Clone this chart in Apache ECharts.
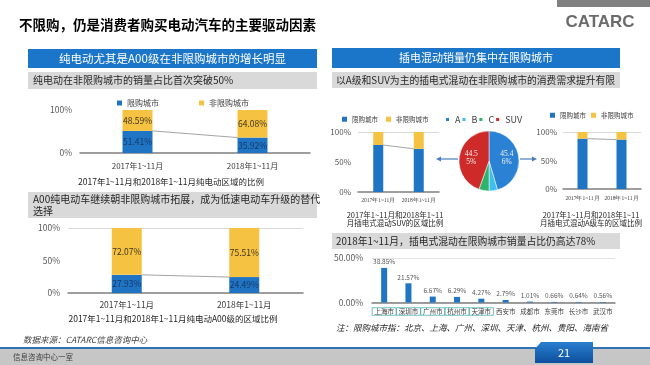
<!DOCTYPE html>
<html><head><meta charset="utf-8">
<script src="https://cdn.jsdelivr.net/npm/echarts@6/dist/echarts.min.js"></script>
<style>html,body{margin:0;padding:0;background:#fff}#c{width:650px;height:365px}</style>
</head><body><div id="c"></div>
<script>
// ---------- data ----------
const periods = ['2017年1~11月', '2018年1~11月'];
const bevLimited = [51.41, 35.92];
const bevUnlimited = [48.59, 64.08];
const a00Limited = [27.93, 24.49];
const a00Unlimited = [72.07, 75.51];
const suvLimited = [78.3, 72.0];
const suvUnlimited = [21.7, 28.0];
const aLimited = [88.3, 86.7];
const aUnlimited = [11.7, 13.3];
const pieNames = ['A', 'B', 'C', 'SUV'];
const pieValues = [45.46, 4.49, 5.50, 44.55];
const cities = ['上海市', '深圳市', '广州市', '杭州市', '天津市', '西安市', '成都市', '东莞市', '长沙市', '武汉市'];
const cityShares = [38.85, 21.57, 6.67, 6.29, 4.27, 2.79, 1.01, 0.66, 0.64, 0.56];
const boxedCities = ['上海市', '深圳市', '广州市', '杭州市', '天津市'];
const seriesNames = ['限购城市', '非限购城市'];

// ---------- style ----------
const FONT = "'Noto Sans CJK SC','Noto Sans',sans-serif";
const SERIF = "'Liberation Serif','DejaVu Serif',serif";
const BLUE = '#1f74c4', YELLOW = '#f5c242', AXIS = '#7f7f7f';
const PIE_COLORS = ['#2b82d4', '#3fbff0', '#2db36a', '#cf2a2a'];

const chart = echarts.init(document.getElementById('c'), null, {renderer: 'canvas'});

function T(text, x, y, size, o) {
  o = o || {};
  return {type: 'text', z: 10, silent: true, style: {
    text: text, x: x, y: y, fill: o.fill || '#262626',
    fontSize: size, fontFamily: o.family || FONT, fontWeight: o.weight || 'normal',
    fontStyle: o.style || 'normal', lineHeight: o.lh,
    align: o.align || 'left', verticalAlign: 'middle',
    textAlign: o.align || 'left', textVerticalAlign: 'middle'
  }};
}
function R(x, y, w, h, fill) {
  return {type: 'rect', z: 1, silent: true, shape: {x: x, y: y, width: w, height: h}, style: {fill: fill}};
}
function arrow(x1, x2, y) {
  const dir = x2 > x1 ? 1 : -1;
  return [
    {type: 'line', z: 10, silent: true, shape: {x1: x1, y1: y, x2: x2 - dir * 4, y2: y}, style: {stroke: '#4a7ebb', lineWidth: 1.2}},
    {type: 'polygon', z: 10, silent: true, shape: {points: [[x2, y], [x2 - dir * 5, y - 2.6], [x2 - dir * 5, y + 2.6]]}, style: {fill: '#4a7ebb'}}
  ];
}

const grids = [
  {left: 80, top: 110, width: 230, height: 43},
  {left: 68, top: 228, width: 235, height: 65},
  {left: 358, top: 132, width: 81, height: 60},
  {left: 563, top: 132, width: 78, height: 57},
  {left: 372, top: 258, width: 243, height: 44.5}
].map(g => Object.assign(g, {outerBoundsMode: 'none', containLabel: false}));

function xCat(gi, data, size, margin, family, extra) {
  return Object.assign({
    type: 'category', gridIndex: gi, data: data,
    axisLine: {lineStyle: {color: AXIS, width: 1.5}}, axisTick: {show: false},
    axisLabel: {interval: 0, fontSize: size, margin: margin, color: '#404040', fontFamily: family || FONT}
  }, extra || {});
}
function yPct(gi, max, interval, size, margin, splitColors, fmt) {
  return {
    type: 'value', gridIndex: gi, min: 0, max: max, interval: interval,
    axisLine: {show: false}, axisTick: {show: false},
    axisLabel: {fontSize: size, margin: margin, color: '#595959', fontFamily: FONT,
      formatter: fmt || (v => v + '%')},
    splitLine: splitColors ? {show: true, lineStyle: {color: splitColors, width: 1}} : {show: false}
  };
}

function stacked(gi, lim, unl, bw, lblSize) {
  const lbl = (c) => lblSize ? {show: true, position: 'inside', fontSize: lblSize, color: c,
    fontFamily: FONT, formatter: p => p.value.toFixed(2) + '%'} : {show: false};
  return [
    {name: seriesNames[0], type: 'bar', xAxisIndex: gi, yAxisIndex: gi, stack: 's' + gi, barWidth: bw,
      data: lim, itemStyle: {color: BLUE}, label: lbl('#163a66')},
    {name: seriesNames[1], type: 'bar', xAxisIndex: gi, yAxisIndex: gi, stack: 's' + gi, barWidth: bw,
      data: unl, itemStyle: {color: YELLOW}, label: lbl('#3d3320')}
  ];
}
function connector(gi, lim, bw) {
  return {
    type: 'custom', xAxisIndex: gi, yAxisIndex: gi, silent: true, z: 5,
    data: [[0, lim[0], lim[1]]], encode: {x: 0, y: 1},
    renderItem: function (params, api) {
      const p0 = api.coord([0, api.value(1)]);
      const p1 = api.coord([1, api.value(2)]);
      return {type: 'line', shape: {x1: p0[0] + bw / 2, y1: p0[1], x2: p1[0] - bw / 2, y2: p1[1]},
        style: {stroke: '#8c8c8c', lineWidth: 0.8}};
    }
  };
}
function legendFor(left, top, size, gap, data, iw) {
  return {left: left, top: top, itemWidth: iw || 5, itemHeight: iw || 5, itemGap: gap, icon: 'rect',
    padding: 0, data: data, textStyle: {fontSize: size, color: '#404040', fontFamily: FONT}};
}

const option = {
  animation: false,
  backgroundColor: '#fff',
  textStyle: {fontFamily: FONT},
  grid: grids,
  legend: [
    legendFor(117, 99, 8, 40, seriesNames),
    legendFor(342, 116, 6.5, 8, seriesNames),
    legendFor(550, 112, 6.5, 5, seriesNames),
    legendFor(444, 115, 9, 0, pieNames, 5)
  ],
  xAxis: [
    xCat(0, periods, 8, 9),
    xCat(1, periods, 8.5, 7.5),
    xCat(2, periods, 5.5, 6, SERIF),
    xCat(3, periods, 5.5, 7, SERIF),
    xCat(4, cities, 6.5, 5, FONT, {axisLabel: {
      interval: 0, margin: 5, color: '#404040',
      formatter: v => (boxedCities.indexOf(v) >= 0 ? '{b|' : '{p|') + v + '}',
      rich: {
        b: {fontSize: 6.5, fontFamily: FONT, color: '#404040', borderColor: '#4aaeae', borderWidth: 0.8,
          width: 23, align: 'center', padding: [1, 0.5, 0, 0.5], lineHeight: 8},
        p: {fontSize: 6.5, fontFamily: FONT, color: '#404040', width: 23, align: 'center',
          padding: [1, 0.5, 0, 0.5], lineHeight: 8}
      }
    }})
  ],
  yAxis: [
    yPct(0, 100, 100, 8.5, 8, null),
    yPct(1, 100, 50, 8.5, 8, ['transparent', 'transparent', '#d9d9d9']),
    yPct(2, 100, 50, 8, 7, ['transparent', 'transparent', '#d9d9d9']),
    yPct(3, 100, 50, 8, 6, ['transparent', 'transparent', '#d9d9d9']),
    yPct(4, 50, 50, 8.5, 9, ['#e3e3e3'], v => v.toFixed(2) + '%')
  ],
  series: [
    ...stacked(0, bevLimited, bevUnlimited, 30, 8.5), connector(0, bevLimited, 30),
    ...stacked(1, a00Limited, a00Unlimited, 30, 8.5), connector(1, a00Limited, 30),
    ...stacked(2, suvLimited, suvUnlimited, 10, 0), connector(2, suvLimited, 10),
    ...stacked(3, aLimited, aUnlimited, 10, 0), connector(3, aLimited, 10),
    {type: 'bar', xAxisIndex: 4, yAxisIndex: 4, barWidth: 6, data: cityShares,
      itemStyle: {color: BLUE},
      label: {show: true, position: 'top', distance: 3, fontSize: 6.5, color: '#595959', fontFamily: FONT,
        formatter: p => p.value.toFixed(2) + '%'}},
    {type: 'pie', center: [489, 161], radius: 30, startAngle: 90, clockwise: true,
      itemStyle: {borderColor: '#fff', borderWidth: 0.5},
      label: {show: true, position: 'inside', fontSize: 7.5, lineHeight: 8, color: '#f2f2f2', fontFamily: SERIF,
        formatter: p => {
          if (p.percent < 10) return '';
          const s = p.value.toFixed(2) + '%';
          return s.slice(0, 4) + '\n' + s.slice(4);
        }},
      labelLine: {show: false},
      data: pieNames.map((n, i) => ({name: n, value: pieValues[i], itemStyle: {color: PIE_COLORS[i]}}))
    }
  ],
  graphic: [
    // header
    R(557, 0, 93, 7, '#808080'),
    T('不限购，仍是消费者购买电动汽车的主要驱动因素', 19, 25, 13.5, {weight: 'bold', fill: '#000'}),
    T('CATARC', 600, 22, 17, {weight: 'bold', fill: '#6b6b6b', align: 'center', family: "'Liberation Sans',sans-serif"}),
    // left panel headers
    R(28, 49, 289, 19, '#1b75c8'),
    T('纯电动尤其是A00级在非限购城市的增长明显', 172.5, 58.5, 11.5, {fill: '#fff', align: 'center'}),
    R(28, 72, 289, 17, '#d9d9d9'),
    T('纯电动在非限购城市的销量占比首次突破50%', 33, 80.5, 10),
    T('2017年1~11月和2018年1~11月纯电动区域的比例', 171, 182, 8.5, {align: 'center'}),
    R(28, 192, 289, 26, '#d9d9d9'),
    T('A00纯电动车继续朝非限购城市拓展，成为低速电动车升级的替代\n选择', 33, 205, 10, {lh: 12}),
    T('2017年1~11月和2018年1~11月纯电动A00级的区域比例', 173, 319, 8.5, {align: 'center'}),
    T('数据来源：CATARC信息咨询中心', 23, 340, 8.5, {style: 'italic', fill: '#404040'}),
    // right panel headers
    R(332, 48, 288, 20, '#1b75c8'),
    T('插电混动销量仍集中在限购城市', 476, 58, 11, {fill: '#fff', align: 'center'}),
    R(332, 72, 288, 16, '#d9d9d9'),
    T('以A级和SUV为主的插电式混动在非限购城市的消费需求提升有限', 336, 80, 9.8),
    T('2017年1~11月和2018年1~11\n月插电式混动SUV的区域比例', 395, 219, 7.5, {align: 'center', lh: 8.5}),
    T('2017年1~11月和2018年1~11\n月插电式混动A级车的区域比例', 591, 219, 7.5, {align: 'center', lh: 8.5}),
    ...arrow(458, 436, 159),
    ...arrow(520, 537, 159),
    R(332, 233, 288, 16, '#d9d9d9'),
    T('2018年1~11月，插电式混动在限购城市销量占比仍高达78%', 336, 241, 9.8),
    T('注：限购城市指：北京、上海、广州、深圳、天津、杭州、贵阳、海南省', 336, 328, 8.5, {style: 'italic'}),
    // footer
    R(0, 347, 650, 2, '#2e74b5'),
    R(0, 349, 650, 16, '#c6c6c6'),
    T('信息咨询中心一室', 13, 357.5, 7.5, {fill: '#404040'}),
    {type: 'polygon', z: 3, silent: true,
      shape: {points: [[535, 349], [541, 342], [593, 342], [593, 363], [535, 363]]},
      style: {fill: new echarts.graphic.LinearGradient(0, 0, 0, 1, [
        {offset: 0, color: '#2a7fd0'}, {offset: 1, color: '#0d4f9e'}])}},
    T('21', 564, 353, 11, {fill: '#fff', align: 'center'})
  ]
};
chart.setOption(option);
</script>
</body></html>
